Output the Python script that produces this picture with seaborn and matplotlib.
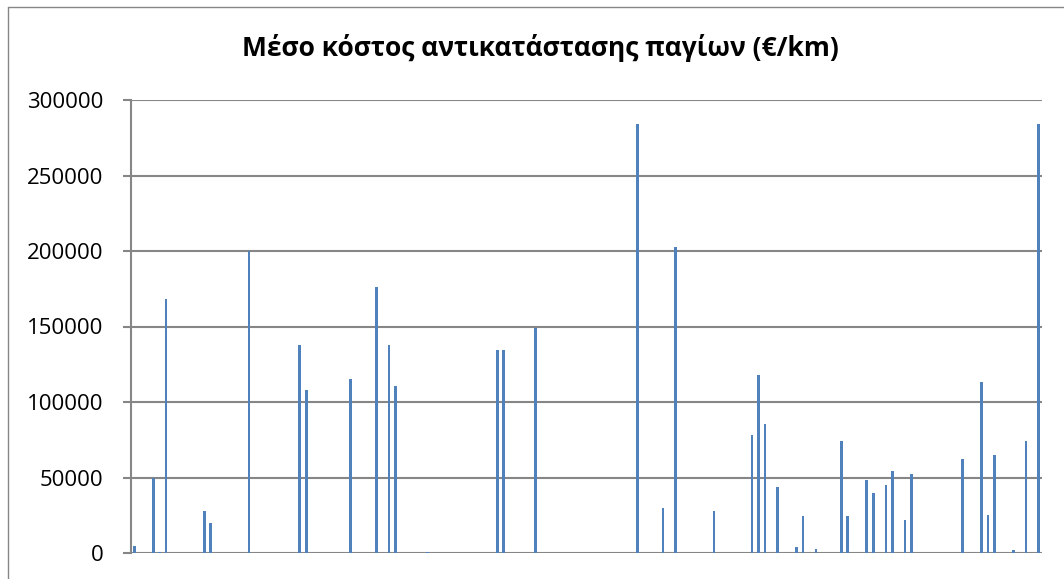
import numpy as np
import matplotlib
matplotlib.use("Agg")
import matplotlib.pyplot as plt
from matplotlib.lines import Line2D
from matplotlib.ticker import StrMethodFormatter
import seaborn as sns

TITLE = "Μέσο κόστος αντικατάστασης παγίων (€/km)"

# 143 unnamed categories, one bar each (most are zero)
categories = list(range(1, 144))
values = [
    4500, 0, 0, 50000, 500, 168000, 0, 0, 0, 0,
    0, 27500, 20000, 0, 0, 0, 0, 0, 200000, 0,
    0, 0, 0, 0, 0, 0, 138000, 108000, 0, 0,
    0, 0, 0, 0, 115000, 0, 0, 0, 176000, 0,
    138000, 110500, 0, 0, 0, 0, 500, 0, 0, 0,
    0, 0, 0, 0, 0, 0, 0, 134500, 134500, 0,
    0, 0, 0, 149000, 0, 0, 0, 0, 0, 0,
    0, 0, 0, 0, 0, 0, 0, 0, 0, 284000,
    0, 0, 0, 29500, 0, 202500, 0, 0, 0, 0,
    0, 28000, 0, 0, 0, 0, 0, 78000, 118000, 85500,
    0, 43500, 0, 0, 4000, 24500, 0, 2500, 0, 0,
    0, 74500, 24800, 0, 0, 48500, 39500, 0, 45000, 54500,
    0, 22000, 52500, 0, 0, 0, 0, 0, 0, 0,
    62500, 0, 0, 113000, 25000, 65000, 0, 0, 1700, 0,
    74500, 0, 284000,
]
y_ticks = [0, 50000, 100000, 150000, 200000, 250000, 300000]

BAR = "#4F81BD"
GRID = "#868686"

sns.set_style("white")
plt.rcParams["font.family"] = ["Open Sans", "DejaVu Sans"]

fig = plt.figure(figsize=(10.64, 5.79), dpi=100)
ax = fig.add_axes([131 / 1064, 1 - 553 / 579, (1042 - 131) / 1064, (553 - 100) / 579])

sns.barplot(x=categories, y=values, ax=ax, color=BAR, saturation=1,
            width=0.42, errorbar=None, linewidth=0)

ax.set_ylim(0, 300000)
ax.set_yticks(y_ticks)
ax.yaxis.set_major_formatter(StrMethodFormatter("{x:.0f}"))
ax.set_xticks([])
ax.set_xlabel("")
ax.set_ylabel("")

ax.set_axisbelow(True)
ax.yaxis.grid(True, color=GRID, linewidth=1.5)
for s in ["top", "right", "bottom"]:
    ax.spines[s].set_visible(False)
ax.spines["left"].set_color(GRID)
ax.spines["left"].set_linewidth(1.5)
ax.tick_params(axis="y", length=6, width=1.5, color=GRID, pad=14,
               labelsize=16, labelcolor="black", left=True)

fig.text(540 / 1064, 1 - 48 / 579, TITLE, ha="center", va="center",
         fontsize=19, fontweight="bold", color="black")

# chart area border (left and top edges visible)
fig.add_artist(Line2D([8 / 1064, 8 / 1064], [0, 1 - 7 / 579], color=GRID, linewidth=1))
fig.add_artist(Line2D([8 / 1064, 1], [1 - 7 / 579, 1 - 7 / 579], color=GRID, linewidth=1))

fig.savefig("out.png", dpi=100, facecolor="white")
